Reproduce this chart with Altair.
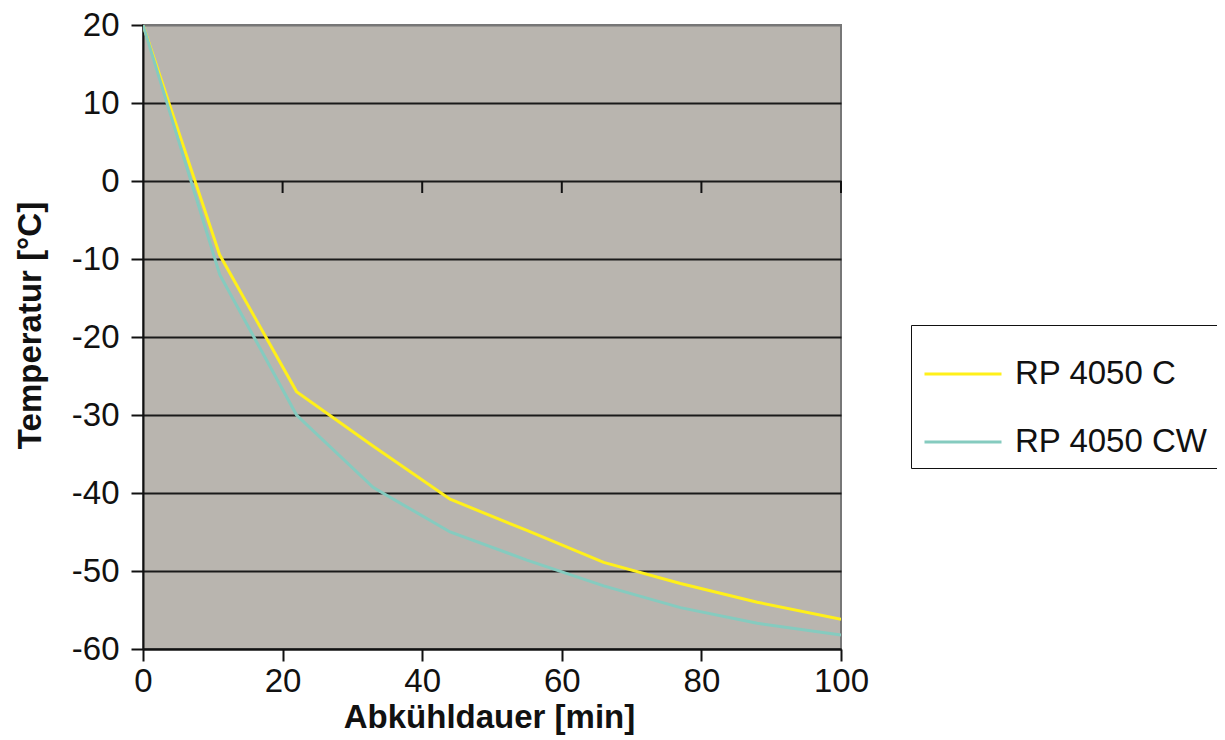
import altair as alt
import pandas as pd

# data
time_min = [0, 11, 22, 33, 44, 55, 66, 77, 88, 100]
rp_4050_c = [20, -9.5, -27, -34, -40.8, -44.8, -48.9, -51.6, -54.0, -56.2]
rp_4050_cw = [20, -12, -30, -39.3, -45, -48.6, -51.9, -54.7, -56.7, -58.2]
series_names = ["RP 4050 C", "RP 4050 CW"]
series_colors = ["#fff01a", "#85cbbf"]
x_ticks = [0, 20, 40, 60, 80, 100]
y_ticks = [20, 10, 0, -10, -20, -30, -40, -50, -60]
zero_line_ticks = [20, 40, 60, 80, 100]

rows = []
for t, a, b in zip(time_min, rp_4050_c, rp_4050_cw):
    rows.append({"t": t, "temp": a, "series": series_names[0]})
    rows.append({"t": t, "temp": b, "series": series_names[1]})
df = pd.DataFrame(rows)
ticks_df = pd.DataFrame({"t": zero_line_ticks, "temp": [0] * len(zero_line_ticks)})

FONT = "Liberation Sans"
HYPHEN_LABEL = "datum.value < 0 ? '-' + abs(datum.value) : '' + datum.value"

x_scale = alt.Scale(domain=[0, 100], nice=False, zero=False)
y_scale = alt.Scale(domain=[-60, 20], nice=False, zero=False)

lines = alt.Chart(df).mark_line(strokeWidth=3, clip=True).encode(
    x=alt.X("t:Q", scale=x_scale,
            axis=alt.Axis(values=x_ticks, title="Abkühldauer [min]", grid=False,
                          tickSize=12, tickWidth=2, tickColor="#111",
                          domainColor="#111", domainWidth=2,
                          labelFontSize=33, labelPadding=4, labelColor="#111",
                          labelFont=FONT, labelFlush=False,
                          titleFont=FONT, titleFontSize=33, titleFontWeight="bold",
                          titleColor="#111", titleX=346, titleY=68,
                          titleBaseline="middle", titleAlign="center")),
    y=alt.Y("temp:Q", scale=y_scale,
            axis=alt.Axis(values=y_ticks, title="Temperatur [°C]", grid=True,
                          gridColor=alt.condition("datum.value == 20", alt.value("#777777"), alt.value("#1a1a1a")),
                          gridWidth=2,
                          tickSize=12, tickWidth=2, tickColor="#111",
                          domainColor="#111", domainWidth=2,
                          labelExpr=HYPHEN_LABEL,
                          labelFontSize=33, labelPadding=12, labelColor="#111",
                          labelFont=FONT, labelFlush=False,
                          titleFont=FONT, titleFontSize=33, titleFontWeight="bold",
                          titleColor="#111", titleAngle=-90, titleX=-113, titleY=300,
                          titleBaseline="middle", titleAlign="center")),
    color=alt.Color("series:N",
                    scale=alt.Scale(domain=series_names, range=series_colors),
                    legend=alt.Legend(title=None, orient="none", legendX=768, legendY=300,
                                      symbolType="stroke", symbolSize=5929, symbolStrokeWidth=3,
                                      labelFont=FONT, labelFontSize=33, labelColor="#111",
                                      labelLimit=400,
                                      fillColor="white", strokeColor="#111",
                                      padding=9, symbolOffset=3, labelOffset=12,
                                      rowPadding=11)),
)

zero_ticks = alt.Chart(ticks_df).mark_tick(orient="vertical", size=12, thickness=2,
                                          color="#111", yOffset=6, opacity=1).encode(
    x=alt.X("t:Q", scale=x_scale),
    y=alt.Y("temp:Q", scale=y_scale),
)

chart = alt.layer(zero_ticks, lines).properties(
    width=698, height=624,
    autosize=alt.AutoSizeParams(type="none"),
    padding={"left": 135, "top": 17, "right": 376, "bottom": 88},
    background="white",
).configure_view(fill="#b9b5af", stroke="#777777", strokeWidth=2)

chart.save("out.html", embed_options={"renderer": "svg", "actions": False})
